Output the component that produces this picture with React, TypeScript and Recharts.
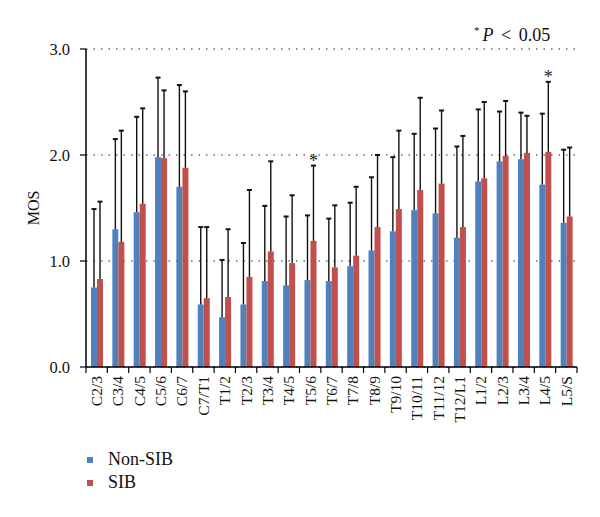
import React from 'react';
import {
  BarChart,
  Bar,
  XAxis,
  YAxis,
  CartesianGrid,
  Legend,
} from 'recharts';

const levels = [
  'C2/3', 'C3/4', 'C4/5', 'C5/6', 'C6/7', 'C7/T1', 'T1/2', 'T2/3', 'T3/4', 'T4/5',
  'T5/6', 'T6/7', 'T7/8', 'T8/9', 'T9/10', 'T10/11', 'T11/12', 'T12/L1',
  'L1/2', 'L2/3', 'L3/4', 'L4/5', 'L5/S',
];
const nonSib = [
  0.75, 1.30, 1.46, 1.98, 1.70, 0.59, 0.47, 0.59, 0.81, 0.77,
  0.82, 0.81, 0.95, 1.10, 1.28, 1.48, 1.45, 1.22,
  1.75, 1.94, 1.96, 1.72, 1.36,
];
const sib = [
  0.83, 1.18, 1.54, 1.97, 1.88, 0.65, 0.66, 0.85, 1.09, 0.98,
  1.19, 0.94, 1.05, 1.32, 1.49, 1.67, 1.73, 1.32,
  1.78, 1.99, 2.02, 2.03, 1.42,
];
// upper end of the SD whisker
const nonSibErr = [
  1.49, 2.15, 2.36, 2.73, 2.66, 1.32, 1.01, 1.17, 1.52, 1.42,
  1.43, 1.40, 1.55, 1.79, 1.98, 2.20, 2.25, 2.08,
  2.43, 2.41, 2.40, 2.39, 2.05,
];
const sibErr = [
  1.56, 2.23, 2.44, 2.61, 2.60, 1.32, 1.30, 1.67, 1.94, 1.62,
  1.90, 1.525, 1.70, 2.00, 2.23, 2.54, 2.42, 2.18,
  2.50, 2.51, 2.37, 2.69, 2.07,
];
const sibSignificant = ['T5/6', 'L4/5'];
const yTicks = [0, 1, 2, 3];

const BLUE = '#4F81BD';
const RED = '#C0504D';
const FONT = "'Liberation Serif', 'Times New Roman', 'DejaVu Serif', serif";

const data = levels.map((level, i) => ({
  level,
  nonSib: nonSib[i],
  sib: sib[i],
  nonSibErr: nonSibErr[i],
  sibErr: sibErr[i],
  sig: sibSignificant.includes(level),
}));

const BarWithError = (props: any) => {
  const { x, y, width, height, fill, payload, valueKey, errKey, showSig } = props;
  const val = payload[valueKey];
  const pxPerUnit = val ? height / val : 0;
  const base = y + height;
  const errTop = base - payload[errKey] * pxPerUnit;
  const cx = x + width / 2;
  return (
    <g>
      <rect x={x} y={y} width={width} height={height} fill={fill} />
      <line x1={cx} x2={cx} y1={y} y2={errTop} stroke="#111" strokeWidth={1.4} />
      <line x1={cx - 2.5} x2={cx + 2.5} y1={errTop} y2={errTop} stroke="#111" strokeWidth={2} />
      {showSig && payload.sig && (
        <text x={cx} y={errTop + 1} textAnchor="middle" style={{ fontFamily: FONT }} fontSize={18} fill="#222">
          *
        </text>
      )}
    </g>
  );
};

const XTick = (props: any) => {
  const { x, y, payload, index, visibleTicksCount } = props;
  const half = payload.offset || 10.67;
  const axisY = y - 9;
  const last = index === visibleTicksCount - 1;
  return (
    <g>
      <line x1={x - half} x2={x - half} y1={axisY} y2={axisY + 6} stroke="#000" strokeWidth={1.2} />
      {last && (
        <line x1={x + half} x2={x + half} y1={axisY} y2={axisY + 6} stroke="#000" strokeWidth={1.2} />
      )}
      <text
        x={x}
        y={y}
        dy="0.35em"
        textAnchor="end"
        transform={`rotate(-90, ${x}, ${y})`}
        style={{ fontFamily: FONT }}
        fontSize={15.5}
        fill="#111"
      >
        {payload.value}
      </text>
    </g>
  );
};

const renderLegend = () => (
  <div style={{ height: 46, paddingLeft: 87, fontFamily: FONT, fontSize: 18, color: '#111' }}>
    {[
      { name: 'Non-SIB', color: BLUE },
      { name: 'SIB', color: RED },
    ].map((item) => (
      <div key={item.name} style={{ height: 23, display: 'flex', alignItems: 'center' }}>
        <span style={{ width: 6, height: 6, background: item.color, display: 'inline-block', marginRight: 15 }} />
        <span>{item.name}</span>
      </div>
    ))}
  </div>
);

export default function App() {
  return (
    <div style={{ position: 'absolute', left: 0, top: 0, width: 600, height: 517, background: '#fff', fontFamily: FONT }}>
      <BarChart
        width={600}
        height={517}
        data={data}
        margin={{ top: 49, right: 23, left: 0, bottom: 23 }}
        barGap={0}
        barSize={6}
        style={{ fontFamily: FONT }}
      >
        <CartesianGrid vertical={false} stroke="#222" strokeDasharray="1.5 6" />
        <XAxis
          dataKey="level"
          interval={0}
          height={81}
          tickLine={false}
          tickSize={6}
          tickMargin={3}
          axisLine={{ stroke: '#000', strokeWidth: 1.5 }}
          tick={<XTick />}
        />
        <YAxis
          width={86}
          domain={[0, 3]}
          ticks={yTicks}
          tickFormatter={(v: number) => v.toFixed(1)}
          tickSize={6}
          tickMargin={10}
          axisLine={{ stroke: '#000', strokeWidth: 1.5 }}
          tickLine={{ stroke: '#000', strokeWidth: 1.2 }}
          tick={{ style: { fontFamily: FONT }, fontSize: 16.5, fill: '#111' }}
          label={{ value: 'MOS', angle: -90, position: 'center', dx: -10, style: { fontFamily: FONT }, fontSize: 16, fill: '#111' }}
        />
        <Legend verticalAlign="bottom" align="left" layout="horizontal" content={renderLegend} />
        <Bar
          dataKey="nonSib"
          name="Non-SIB"
          fill={BLUE}
          isAnimationActive={false}
          shape={(p: any) => <BarWithError {...p} valueKey="nonSib" errKey="nonSibErr" showSig={false} />}
        />
        <Bar
          dataKey="sib"
          name="SIB"
          fill={RED}
          isAnimationActive={false}
          shape={(p: any) => <BarWithError {...p} valueKey="sib" errKey="sibErr" showSig />}
        />
      </BarChart>
      <div
        style={{
          position: 'absolute',
          left: 474,
          top: 24,
          fontSize: 18,
          color: '#111',
          whiteSpace: 'nowrap',
          wordSpacing: 3,
        }}
      >
        <sup style={{ fontSize: 11 }}>*</sup>
        <i style={{ marginLeft: 3 }}>P</i> &lt; 0.05
      </div>
    </div>
  );
}
